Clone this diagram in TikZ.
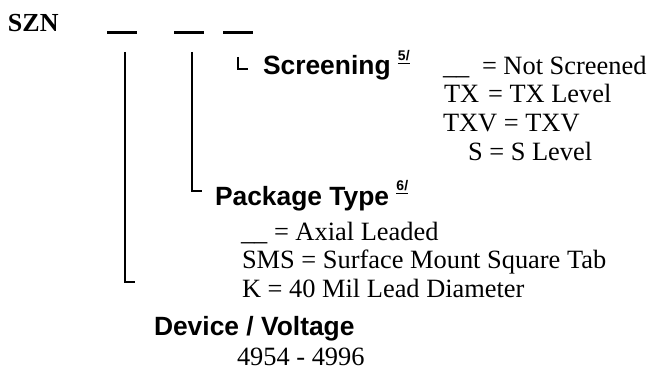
\documentclass[tikz,border=0pt]{standalone}
\usepackage{fontspec}
\setmainfont{Liberation Serif}
\setsansfont{Liberation Sans}
\usetikzlibrary{positioning}
\newcommand{\fnref}[1]{\raisebox{0.55em}{\fontsize{7}{8}\selectfont\underline{#1}}}

\begin{document}
\begin{tikzpicture}[x=0.5pt,y=-0.5pt,
    every node/.style={inner sep=0pt,outer sep=0pt,anchor=base west},
    head/.style={font=\fontsize{13.2}{15}\selectfont\sffamily\bfseries},
    opt/.style={font=\fontsize{13.2}{15}\selectfont},
    slot/.style={fill=black,minimum width=15pt,minimum height=1.5pt,anchor=center},
    lead/.style={line width=0.75pt}]
  \useasboundingbox (0,0) rectangle (652,369);

  % part number
  \node[font=\fontsize{13}{15}\selectfont\bfseries] (szn) at (8,32) {SZN};
  \node[slot] (b1) at (122,33) {};
  \node[slot] (b2) at (188.5,33) {};
  \node[slot] (b3) at (238,33) {};

  % screening
  \node[head] (scr) at (263,75) {Screening \fnref{5/}};
  \draw[line width=0.65pt] (238,57) |- (248,69);
  \node[opt] (scrk1) at (443,75) {\_\_};
  \node[opt] (scrv1) at (482,75) {= Not Screened};
  \node[opt] (scrk2) at (444,103) {TX};
  \node[opt] (scrv2) at (488,103) {= TX Level};
  \node[opt] (scr3) at (443,132) {TXV = TXV};
  \node[opt] (scr4) at (468,160) {S = S Level};

  % package type
  \coordinate (v2top) at (192,52);
  \coordinate (v2end) at (202,191);
  \draw[lead] (v2top) |- (v2end);
  \node[head] (pkg) at (215,205) {Package Type \fnref{6/}};
  \node[opt] (pkg1) at (241,240) {\_\_ = Axial Leaded};
  \node[opt] (pkg2) at (242,268) {SMS = Surface Mount Square Tab};
  \node[opt] (pkg3) at (242,297) {K = 40 Mil Lead Diameter};

  % device
  \coordinate (v1top) at (125,52);
  \coordinate (v1end) at (135,282);
  \draw[lead] (v1top) |- (v1end);
  \node[head] (dev) at (154,335) {Device / Voltage};
  \node[opt] (rng) at (237,365) {4954 - 4996};
\end{tikzpicture}
\end{document}
